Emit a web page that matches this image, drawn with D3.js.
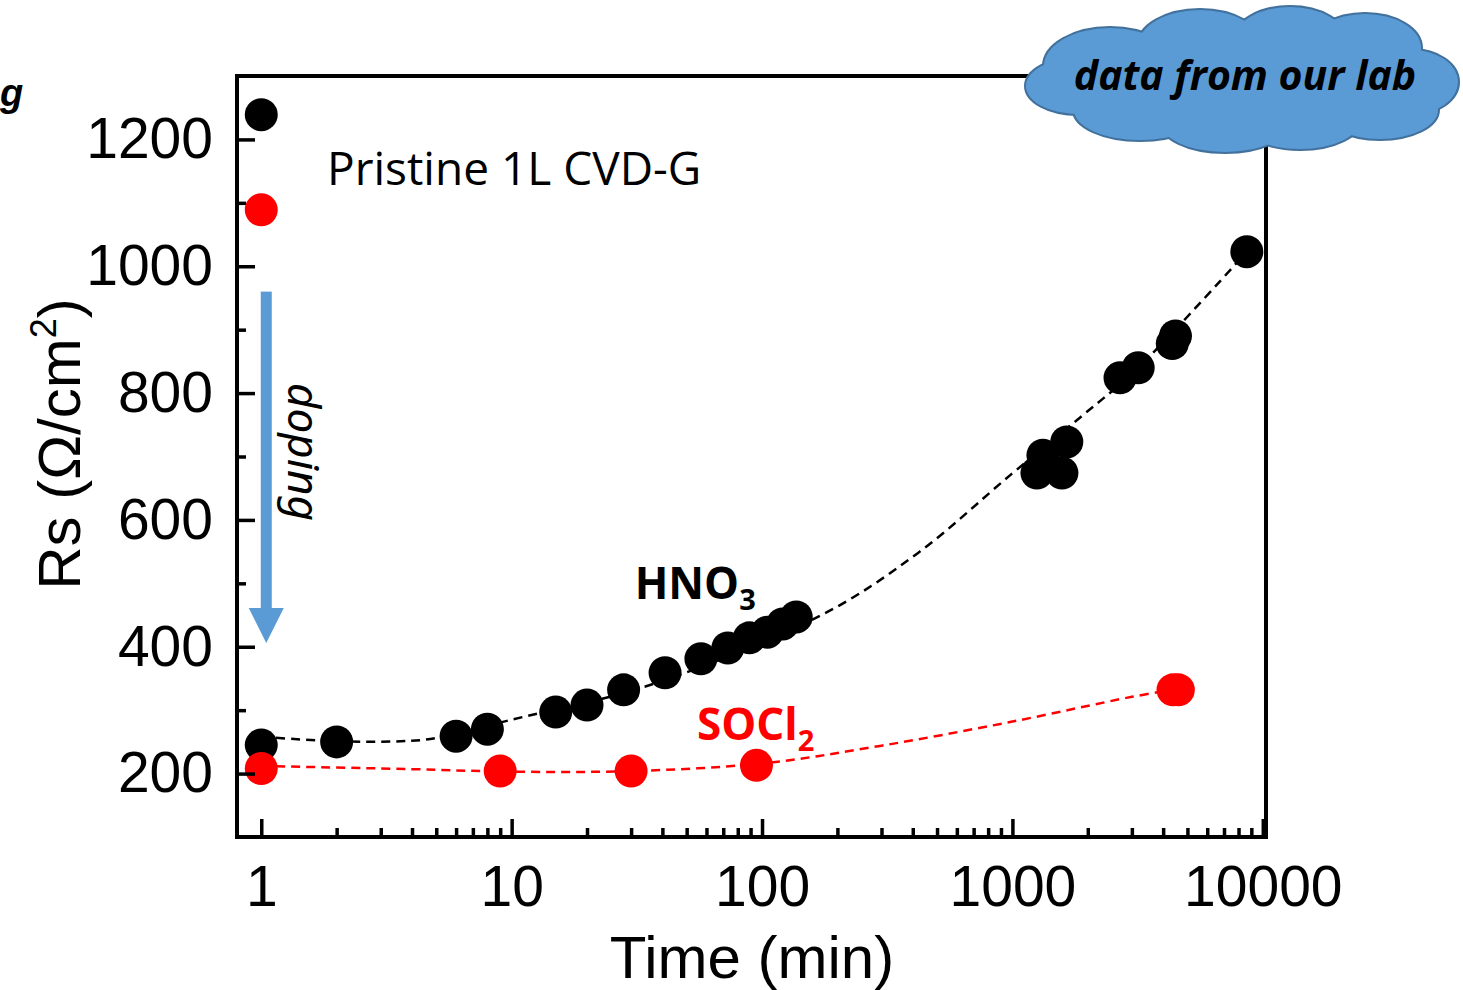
<!DOCTYPE html>
<html>
<head>
<meta charset="utf-8">
<script src="https://cdn.jsdelivr.net/npm/d3@7"></script>
<style>
  body { margin: 0; background: #fff; }
  svg { display: block; }
</style>
</head>
<body>
<svg></svg>
<script>
// data
var hno3Time = [1, 1, 2, 6, 8, 15, 20, 28, 41, 57, 73, 89, 105, 121, 137,
  1253, 1324, 1577, 1649, 2690, 3180, 4350, 4480, 8635];
var hno3Rs = [1239, 245, 250, 259, 270, 297, 308, 332, 359, 381, 398, 414, 423, 436, 447,
  674, 702, 674, 723, 824, 840, 878, 890, 1023];

var socl2Time = [1, 1, 9, 30, 95, 4380, 4600];
var socl2Rs = [1089, 208, 204, 204, 213, 332, 332];

// dashed guide lines (read along the dashes)
var hno3FitTime = [1, 2, 3.6, 5, 10, 34, 173, 420, 983, 1870, 3180, 8635];
var hno3FitRs = [258, 251, 251, 256, 285, 337, 450, 548, 671, 762, 840, 1023];
var socl2FitTime = [1, 4, 10, 30, 100, 300, 1000, 3000, 4500];
var socl2FitRs = [212, 207, 203, 204, 216, 244, 282, 321, 333];

var xMajor = [1, 10, 100, 1000, 10000];
var yMajor = [200, 400, 600, 800, 1000, 1200];
var yMinor = [300, 500, 700, 900, 1100];

// set the dimensions and margins of the graph
var margin = { top: 76, right: 197, bottom: 153, left: 237 },
  width = 1463 - margin.left - margin.right,
  height = 990 - margin.top - margin.bottom;

var root = d3.select("svg")
  .attr("width", 1463)
  .attr("height", 990);

var svg = root.append("g")
  .attr("transform", "translate(" + margin.left + "," + margin.top + ")");

var x = d3.scaleLog().domain([0.8, 10300]).range([0, width]);
var y = d3.scaleLinear().domain([100, 1300]).range([height, 0]);

var xMinor = [];
[1, 10, 100, 1000].forEach(function (d) {
  for (var k = 2; k <= 9; k++) xMinor.push(d * k);
});

// dashed lines
var line = d3.line()
  .x(function (d) { return x(d[0]); })
  .y(function (d) { return y(d[1]); })
  .curve(d3.curveCatmullRom);

svg.append("path")
  .datum(hno3FitTime.map(function (t, i) { return [t, hno3FitRs[i]]; }))
  .attr("d", line)
  .attr("fill", "none")
  .attr("stroke", "#000")
  .attr("stroke-width", 2.5)
  .attr("stroke-dasharray", "9,6");

svg.append("path")
  .datum(socl2FitTime.map(function (t, i) { return [t, socl2FitRs[i]]; }))
  .attr("d", line)
  .attr("fill", "none")
  .attr("stroke", "#ff0000")
  .attr("stroke-width", 2.5)
  .attr("stroke-dasharray", "9,6");

// points
svg.selectAll(".hno3")
  .data(hno3Time.map(function (t, i) { return [t, hno3Rs[i]]; }))
  .enter().append("circle")
  .attr("class", "hno3")
  .attr("cx", function (d) { return x(d[0]); })
  .attr("cy", function (d) { return y(d[1]); })
  .attr("r", 16.5)
  .attr("fill", "#000");

svg.selectAll(".socl2")
  .data(socl2Time.map(function (t, i) { return [t, socl2Rs[i]]; }))
  .enter().append("circle")
  .attr("class", "socl2")
  .attr("cx", function (d) { return x(d[0]); })
  .attr("cy", function (d) { return y(d[1]); })
  .attr("r", 16.5)
  .attr("fill", "#ff0000");

// axes, ticks pointing inward
function styleAxis(g) {
  g.select(".domain").remove();
  g.selectAll(".tick line").attr("stroke", "#000").attr("stroke-width", 3.5);
  g.selectAll(".tick text")
    .attr("fill", "#000")
    .style("font-family", "'Liberation Sans', Arial, sans-serif")
    .style("font-size", "57px");
}

svg.append("g")
  .attr("transform", "translate(0," + height + ")")
  .call(d3.axisBottom(x).tickValues(xMajor).tickSize(-18).tickPadding(29)
    .tickFormat(d3.format("d")))
  .call(styleAxis);

svg.append("g")
  .attr("transform", "translate(0," + height + ")")
  .call(d3.axisBottom(x).tickValues(xMinor).tickSize(-9).tickFormat(""))
  .call(styleAxis);

svg.append("g")
  .call(d3.axisLeft(y).tickValues(yMajor).tickSize(-18).tickPadding(24)
    .tickFormat(d3.format("d")))
  .call(styleAxis);

svg.append("g")
  .call(d3.axisLeft(y).tickValues(yMinor).tickSize(-9).tickFormat(""))
  .call(styleAxis);

// frame
svg.append("rect")
  .attr("width", width)
  .attr("height", height)
  .attr("fill", "none")
  .attr("stroke", "#000")
  .attr("stroke-width", 4);

// axis titles
root.append("text")
  .attr("x", 752)
  .attr("y", 978)
  .attr("text-anchor", "middle")
  .style("font-family", "'Liberation Sans', Arial, sans-serif")
  .style("font-size", "60px")
  .text("Time (min)");

var yt = root.append("text")
  .attr("transform", "translate(80,444) rotate(-90)")
  .attr("text-anchor", "middle")
  .style("font-family", "'Liberation Sans', Arial, sans-serif")
  .style("font-size", "60px");
yt.append("tspan").text("Rs (\u03A9/cm");
yt.append("tspan").attr("dy", -24).style("font-size", "36px").text("2");
yt.append("tspan").attr("dy", 24).text(")");

// labels
var labelFont = "'Open Sans', 'Noto Sans', sans-serif";

svg.append("text")
  .attr("x", x(1.83))
  .attr("y", y(1128))
  .style("font-family", labelFont)
  .style("font-size", "46px")
  .text("Pristine 1L CVD-G");

var hl = svg.append("text")
  .attr("x", x(31))
  .attr("y", y(475))
  .style("font-family", labelFont)
  .style("font-weight", "bold")
  .style("font-size", "44px")
  .attr("fill", "#000");
hl.append("tspan").text("HNO");
hl.append("tspan").attr("dy", 11).style("font-size", "29px").text("3");

var sl = svg.append("text")
  .attr("x", x(55))
  .attr("y", y(253))
  .style("font-family", labelFont)
  .style("font-weight", "bold")
  .style("font-size", "44px")
  .attr("fill", "#ff0000");
sl.append("tspan").text("SOCl");
sl.append("tspan").attr("dy", 11).style("font-size", "29px").text("2");

// doping arrow
var ax = x(1.047);
svg.append("rect")
  .attr("x", ax - 5.5)
  .attr("y", y(960))
  .attr("width", 11)
  .attr("height", y(461) - y(960))
  .attr("fill", "#5b9bd5");
svg.append("path")
  .attr("d", "M" + (ax - 17.5) + "," + y(461) + "L" + (ax + 17.5) + "," + y(461) +
    "L" + ax + "," + y(406) + "Z")
  .attr("fill", "#5b9bd5");

svg.append("text")
  .attr("transform", "translate(" + (x(1.047) + 22) + "," + y(707) + ") rotate(90)")
  .attr("text-anchor", "middle")
  .style("font-family", "'Noto Sans', 'Open Sans', sans-serif")
  .style("font-style", "italic")
  .style("font-size", "44px")
  .text("doping");

// letter at the top left edge
root.append("text")
  .attr("x", 0)
  .attr("y", 106)
  .style("font-family", "'Liberation Sans', Arial, sans-serif")
  .style("font-weight", "bold")
  .style("font-style", "italic")
  .style("font-size", "38px")
  .text("g");

// cloud
var puffs = [
  [1110, 66, 66, 38], [1200, 46, 62, 36], [1290, 40, 56, 33], [1365, 48, 56, 34],
  [1412, 82, 46, 32], [1380, 110, 58, 29], [1300, 118, 62, 31], [1225, 120, 66, 32],
  [1140, 110, 66, 30], [1078, 86, 52, 28], [1240, 82, 150, 45]
];
var cloud = root.append("g");
cloud.selectAll(".edge").data(puffs).enter().append("ellipse")
  .attr("cx", function (d) { return d[0]; })
  .attr("cy", function (d) { return d[1]; })
  .attr("rx", function (d) { return d[2]; })
  .attr("ry", function (d) { return d[3]; })
  .attr("fill", "#41719c")
  .attr("stroke", "#41719c")
  .attr("stroke-width", 4);
cloud.selectAll(".fill").data(puffs).enter().append("ellipse")
  .attr("cx", function (d) { return d[0]; })
  .attr("cy", function (d) { return d[1]; })
  .attr("rx", function (d) { return d[2]; })
  .attr("ry", function (d) { return d[3]; })
  .attr("fill", "#5b9bd5");

root.append("text")
  .attr("x", 1245)
  .attr("y", 90)
  .attr("text-anchor", "middle")
  .style("font-family", labelFont)
  .style("font-weight", "bold")
  .style("font-style", "italic")
  .style("font-size", "41px")
  .text("data from our lab");
</script>
</body>
</html>
